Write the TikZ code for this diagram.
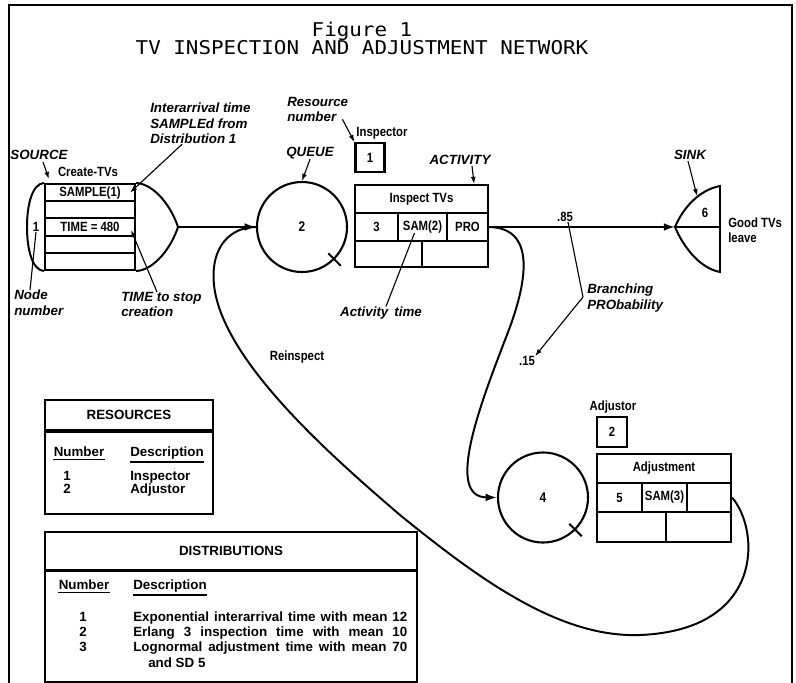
\documentclass[tikz,border=0pt]{standalone}
\usepackage{fontspec}
\setmainfont{Liberation Sans}
\newfontfamily\cnd[FakeStretch=0.85]{Liberation Sans}
\newfontfamily\typ[FakeStretch=1.1]{DejaVu Sans Mono}
\usetikzlibrary{arrows.meta,calc}

\tikzset{
  cell/.style={draw,line width=1.5pt,inner sep=0pt,font=\cnd\bfseries\fontsize{9.5}{11}\selectfont},
  qnode/.style={circle,draw,line width=1.5pt,minimum size=2.25cm,inner sep=0pt,font=\cnd\bfseries\fontsize{10}{12}\selectfont},
  ann/.style={font=\bfseries\itshape\fontsize{9.5}{11}\selectfont,align=left,inner sep=0pt},
  lbl/.style={font=\cnd\bfseries\fontsize{9.5}{11}\selectfont,align=left,inner sep=0pt},
  tab/.style={font=\bfseries\fontsize{9.5}{11}\selectfont,inner sep=0pt},
  lead/.style={line width=0.8pt},
  tip/.style={lead,-{Latex[length=5pt,width=3.5pt]}},
  flow/.style={line width=1.4pt},
  flowtip/.style={flow,-{Latex[length=8pt,width=5.5pt]}},
}

\begin{document}
\begin{tikzpicture}[x=0.025cm,y=-0.025cm]
\useasboundingbox (0,0) rectangle (796,683);
% frame and title
\draw[line width=1.2pt] (9,683) -- (9,5) -- (792,5) -- (792,683);
\node[font=\typ\fontsize{13.5}{15}\selectfont] (fig) at (362,31) {Figure 1};
\node[font=\typ\fontsize{13.5}{15}\selectfont] (ttl) at (362,48) {TV INSPECTION AND ADJUSTMENT NETWORK};

% source node
\foreach \r/\y/\txt in {1/192.6/SAMPLE(1),2/209.8/,3/227/TIME = 480,4/244.2/,5/261.4/}
  \node[cell,minimum width=2.25cm,minimum height=0.43cm] (s\r) at (90,\y) {\txt};
\coordinate (src) at (178,227);
\draw[flow] (s1.north west) .. controls (32,184) and (27,205) .. (27,227) .. controls (27,249) and (32,270) .. (s5.south west);
\draw[flow] (s1.north east) .. controls (155,184) and (172,208) .. (src) .. controls (172,246) and (155,270) .. (s5.south east);
\node[lbl] (snum) at (36,227) {1};
\node[lbl] (create) at (88,172) {Create-TVs};
\node[ann] (srclbl) at (39,155) {SOURCE};
\draw[tip] ($(srclbl.south)+(4,2)$) -- ($(s1.north west)+(5,-4)$);
\node[ann,anchor=north west] (iat) at (150,103) {Interarrival time\\SAMPLEd from\\Distribution 1};
\draw[tip] ($(iat.south west)+(32,0)$) -- ($(s1.east)+(-6,0)$);
\node[ann,anchor=north west] (stop) at (121,292) {TIME to stop\\creation};
\draw[tip] ($(stop.north west)+(36,0)$) -- ($(s3.east)+(-5,3)$);
\node[ann,anchor=north west] (nnum) at (14,290) {Node\\number};
\draw[lead] ($(nnum.north west)+(16,0)$) -- (snum.south);

% queue 2 and inspection
\node[qnode] (q2) at (302,227) {2};
\draw[flow] (q2.-45) ++(-45:0.22cm) -- ++(135:0.44cm);
\draw[flowtip] (src) -- (q2.west);
\node[ann] (qlbl) at (310,153) {QUEUE};
\draw[tip] (qlbl.south) -- (q2.north);
\node[lbl] (insp) at (382,133) {Inspector};
\node[cell,minimum size=0.725cm] (r1) at (370,157.5) {1};
\node[ann,anchor=north west] (resnum) at (287,97) {Resource\\number};
\draw[tip] ($(resnum.south east)+(-6,-3)$) -- (r1.north west);
\node[cell,minimum width=3.325cm,minimum height=0.7cm] (a0) at (421.5,199) {Inspect TVs};
\node[cell,minimum width=1.075cm,minimum height=0.7cm] (a1) at (376.5,227) {3};
\node[cell,minimum width=1.225cm,minimum height=0.7cm] (a2) at (422.5,227) {SAM(2)};
\node[cell,minimum width=1.025cm,minimum height=0.7cm] (a3) at (467.5,227) {PRO};
\node[cell,minimum width=1.675cm,minimum height=0.65cm] (a4) at (388.5,254) {};
\node[cell,minimum width=1.65cm,minimum height=0.65cm] (a5) at (455,254) {};
\node[ann] (actlbl) at (460,160) {ACTIVITY};
\draw[tip] ($(actlbl.south)+(12,1)$) -- ($(a0.north east)+(-15,0)$);
\node[ann] (atime) at (381,313) {Activity\, time};
\draw[lead] ($(a2.center)+(-8,6)$) -- ($(atime.north)+(5,0)$);

% sink
\coordinate (snk) at (675,227);
\coordinate (sinktop) at (697,196);
\draw[flow] (snk) .. controls (683,208) and (699,190) .. (720,186) -- (720,272) .. controls (699,268) and (683,246) .. (snk) -- (720,227);
\draw[flowtip] (a3.east) -- (snk);
\node[lbl] (six) at (705,213) {6};
\node[lbl,anchor=west] (good) at (728,230) {Good TVs\\leave};
\node[ann] (sinklbl) at (690,155) {SINK};
\draw[tip] ($(sinklbl.south)+(-2,1)$) -- (sinktop);

% branching
\node[lbl] (p85) at (565,217) {.85};
\node[lbl] (p15) at (527,361) {.15};
\node[ann,anchor=north west] (branch) at (587,284) {Branching\\PRObability};
\coordinate (bv) at (583,297);
\draw[lead] ($(p85.south)+(3,0)$) -- (bv);
\draw[tip] (bv) -- (p15.north east);

% queue 4 and adjustment
\node[qnode] (q4) at (543,497.5) {4};
\draw[flow] (q4.-45) ++(-45:0.22cm) -- ++(135:0.44cm);
\draw[flowtip] (a3.east) .. controls (540,228) and (525,290) .. (505,340) .. controls (480,405) and (445,497) .. (q4.west);
\node[lbl] (adjlbl) at (613,407) {Adjustor};
\node[cell,minimum size=0.75cm] (r2) at (612,432) {2};
\node[cell,minimum width=3.35cm,minimum height=0.725cm] (b0) at (664,468.5) {Adjustment};
\node[cell,minimum width=1.125cm,minimum height=0.725cm] (b1) at (619.5,497.5) {5};
\node[cell,minimum width=1.125cm,minimum height=0.725cm] (b2) at (664.5,497.5) {SAM(3)};
\node[cell,minimum width=1.1cm,minimum height=0.725cm] (b3) at (709,497.5) {};
\node[cell,minimum width=1.725cm,minimum height=0.75cm] (b4) at (631.5,527) {};
\node[cell,minimum width=1.625cm,minimum height=0.75cm] (b5) at (698.5,527) {};
\draw[flow] (b3.east) .. controls (760,530) and (765,630) .. (640,635) .. controls (560,638) and (480,580) .. (400,515) .. controls (330,455) and (222,360) .. (214,285) .. controls (210,245) and (232,227) .. (q2.west);
\node[lbl] (reinsp) at (297,357) {Reinspect};

% resources table
\node[draw,line width=1.5pt,minimum width=4.2cm,minimum height=0.75cm,tab] (rhead) at (129,415) {RESOURCES};
\node[draw,line width=1.5pt,minimum width=4.2cm,minimum height=2.1cm] (rbody) at (129,472) {};
\draw[lead] ($(rbody.north west)+(0,3)$) -- ($(rbody.north east)+(0,3)$);
\node[tab,anchor=base] (rn) at (79,456) {Number};
\node[tab,anchor=base west] (rd) at (130,456) {Description};
\draw[line width=1.2pt] ($(rn.south west)+(0,3)$) -- ($(rn.south east)+(0,3)$);
\draw[line width=1.2pt] ($(rd.south west)+(0,3)$) -- ($(rd.south east)+(0,3)$);
\node[tab,anchor=base] (rn1) at (67,480) {1};
\node[tab,anchor=base west] (rd1) at (130,480) {Inspector};
\node[tab,anchor=base] (rn2) at (67,493) {2};
\node[tab,anchor=base west] (rd2) at (130,493) {Adjustor};

% distributions table
\node[draw,line width=1.5pt,minimum width=9.3cm,minimum height=0.95cm,tab] (dhead) at (231,551) {DISTRIBUTIONS};
\node[draw,line width=1.5pt,minimum width=9.3cm,minimum height=2.8cm] (dbody) at (231,626) {};
\draw[lead] ($(dbody.north west)+(0,3)$) -- ($(dbody.north east)+(0,3)$);
\node[tab,anchor=base] (dn) at (84,589) {Number};
\node[tab,anchor=base west] (dd) at (133,589) {Description};
\draw[line width=1.2pt] ($(dn.south west)+(0,3)$) -- ($(dn.south east)+(0,3)$);
\draw[line width=1.2pt] ($(dd.south west)+(0,3)$) -- ($(dd.south east)+(0,3)$);
\node[tab,anchor=base] (dn1) at (83,621) {1};
\node[tab,anchor=base west] (dd1) at (133,621) {\makebox[6.85cm][s]{Exponential interarrival time with mean 12}};
\node[tab,anchor=base] (dn2) at (83,636) {2};
\node[tab,anchor=base west] (dd2) at (133,636) {\makebox[6.85cm][s]{Erlang 3 inspection time with mean 10}};
\node[tab,anchor=base] (dn3) at (83,651) {3};
\node[tab,anchor=base west] (dd3) at (133,651) {\makebox[6.85cm][s]{Lognormal adjustment time with mean 70}};
\node[tab,anchor=base west] (dd4) at (148,667) {and SD 5};
\end{tikzpicture}
\end{document}
